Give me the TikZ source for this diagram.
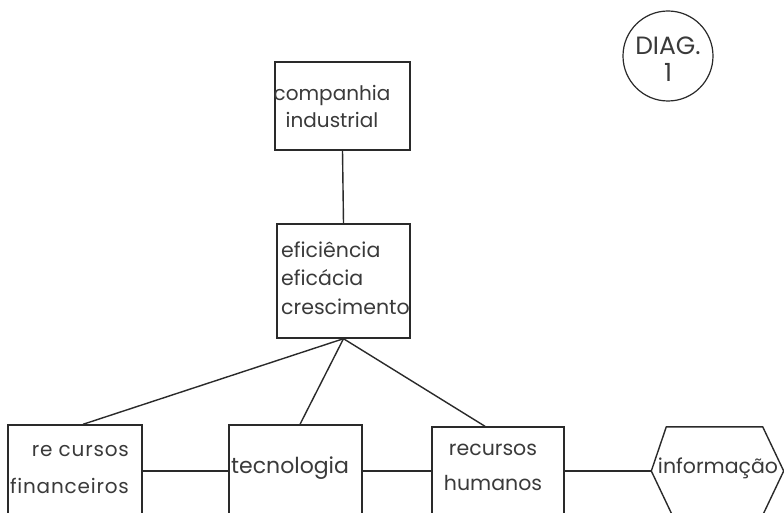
\documentclass[tikz,border=0pt]{standalone}
\usepackage{fontspec}
\setmainfont{Poppins}
\usetikzlibrary{calc}
\definecolor{ink}{HTML}{2A2A2A}
\definecolor{txtc}{HTML}{3A3A3A}
\begin{document}
\begin{tikzpicture}[x=1pt,y=-1pt,
  box/.style={draw=ink, line width=1.4pt, rectangle, inner sep=0pt},
  txt/.style={text=txtc, font=\fontsize{20}{27}\selectfont, align=left, inner sep=0pt},
  link/.style={draw=ink, line width=1.4pt}]
\useasboundingbox (0,0) rectangle (784,513);
\clip (0,0) rectangle (784,513);
\fill[white] (0,0) rectangle (784,513);
% badge
\node[draw=ink, line width=1.2pt, circle, minimum size=90pt, inner sep=0pt] (badge) at (668,56) {};
\node[text=txtc, font=\fontsize{25}{27}\selectfont, align=center, inner sep=0pt] (badget) at (668,59) {DIAG.\\1};
% top boxes
\node[box, minimum width=135pt, minimum height=88pt] (comp) at (342.5,106) {};
\node[txt, align=center] (compt) at (332,106) {companhia\\industrial};
\node[box, minimum width=133pt, minimum height=114pt] (ef) at (343.5,281) {};
\node[txt, anchor=west, font=\fontsize{20.5}{28.5}\selectfont] (eft) at (281,278) {eficiência\\eficácia\\crescimento};
% bottom row
\node[box, minimum width=134pt, minimum height=92pt] (rf) at (75,471) {};
\node[txt, align=right, anchor=east, font=\fontsize{20}{37}\addfontfeature{LetterSpace=4}\selectfont] (rft) at (129,470) {re cursos\\financeiros};
\node[box, minimum width=133pt, minimum height=92pt] (tec) at (295.5,471) {};
\node[txt, anchor=west, font=\fontsize{22}{27}\selectfont] (tect) at (231,468) {tecnologia};
\node[box, minimum width=132pt, minimum height=88pt] (rh) at (498,471) {};
\node[txt, align=center, font=\fontsize{20.5}{35}\selectfont] (rht) at (493,467) {recursos\\humanos};
\node[inner sep=0pt, minimum width=132pt, minimum height=88pt] (inf) at (717.5,471) {};
\node[txt, font=\fontsize{20.5}{27}\selectfont] (inft) at (718,468) {informação};
\draw[link] ($(inf.west)+(0,0)$) coordinate (hl) -- ($(inf.north west)+(15,0)$) coordinate (htl)
  -- ($(inf.north east)+(-21,0)$) coordinate (htr) -- ($(inf.east)$) coordinate (hr)
  -- ($(inf.south east)+(-21,0)$) coordinate (hbr) -- ($(inf.south west)+(21,0)$) coordinate (hbl) -- cycle;
% connectors
\draw[link] (comp.south) -- (ef.north);
\draw[link] (ef.south) -- ($(rf.north)+(8,0)$);
\draw[link] (ef.south) -- ($(tec.north)+(4.5,0)$);
\draw[link] (ef.south) -- ($(rh.north)+(-13,0)$);
\draw[link] (rf.east) -- (tec.west);
\draw[link] (tec.east) -- (rh.west);
\draw[link] (rh.east) -- (hl);
\end{tikzpicture}
\end{document}
